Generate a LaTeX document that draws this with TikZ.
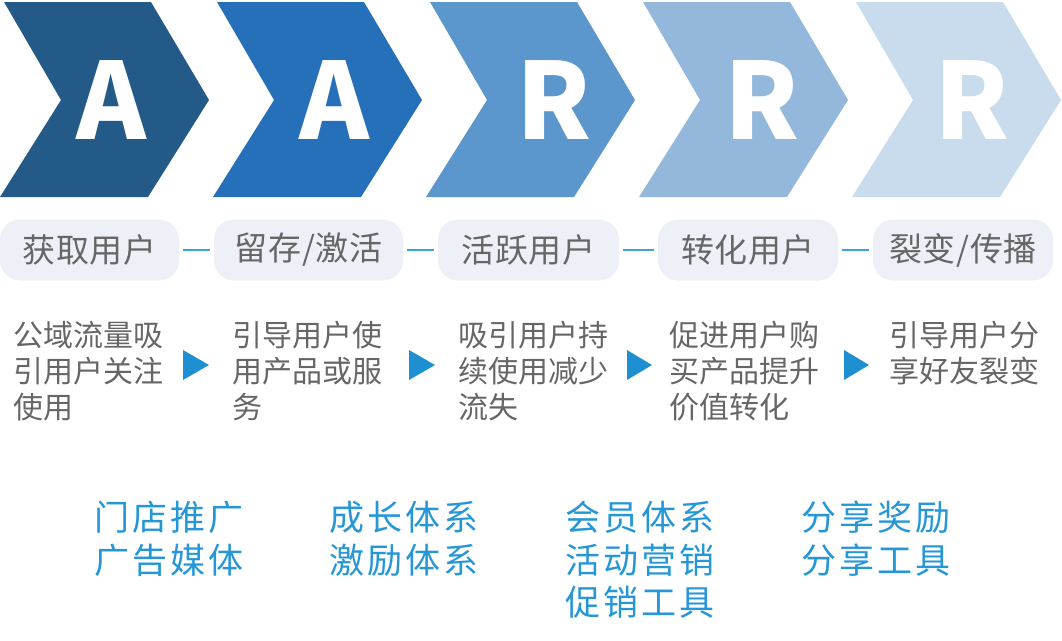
\documentclass[tikz,border=0pt]{standalone}
\usepackage{fontspec}
\newfontfamily\cjk{Noto Sans CJK SC}
\newfontfamily\cjkwide[LetterSpace=9]{Noto Sans CJK SC}
\newfontfamily\cjkpill[LetterSpace=2]{Noto Sans CJK SC}
\definecolor{c1}{HTML}{235A87}
\definecolor{c2}{HTML}{2670BA}
\definecolor{c3}{HTML}{5B96CD}
\definecolor{c4}{HTML}{93B8DC}
\definecolor{c5}{HTML}{C8DCED}
\definecolor{pillfill}{HTML}{EDF1F7}
\definecolor{graytext}{HTML}{666666}
\definecolor{bluetext}{HTML}{2596D6}
\definecolor{tricol}{HTML}{1E90D2}
\definecolor{dashcol}{HTML}{3BA3DE}
\begin{document}
\begin{tikzpicture}[x=1pt,y=-1pt,
  letter/.style={text=white, inner sep=0pt, font=\cjk\bfseries\fontsize{106}{106}\selectfont},
  pill/.style={fill=pillfill, rounded corners=20pt, minimum height=61pt, inner sep=0pt, text=graytext, font=\cjkpill\fontsize{33}{33}\selectfont},
  dashline/.style={draw=dashcol, line width=2pt, shorten <=4pt, shorten >=4pt},
  desc/.style={anchor=base west, inner sep=0pt, text=graytext, font=\cjk\fontsize{30}{36}\selectfont},
  tri/.style={fill=tricol},
  tool/.style={anchor=base west, inner sep=0pt, text=bluetext, font=\cjkwide\fontsize{35}{43}\selectfont}]
\useasboundingbox (0,0) rectangle (1062,640);
% chevrons
\foreach \o/\c in {0/c1,213/c2,426/c3,639/c4,852/c5}{
  \fill[\c] (\o+4,2) -- (\o+151,2) -- (\o+209,100) -- (\o+148,197) -- (\o,197) -- (\o+61,100) -- cycle;
}
\node[letter] (L1) at (111,100) {A};
\node[letter] (L2) at (334,100) {A};
\node[letter] (L3) at (554,100) {R};
\node[letter] (L4) at (762,100) {R};
\node[letter] (L5) at (972,100) {R};
% pills
\node[pill, minimum width=179pt] (p1) at (89.5,250) {获取用户};
\node[pill, minimum width=189pt] (p2) at (308.5,250) {留存/激活};
\node[pill, minimum width=181pt] (p3) at (528.5,250) {活跃用户};
\node[pill, minimum width=180pt] (p4) at (748,250) {转化用户};
\node[pill, minimum width=180pt] (p5) at (963,250) {裂变/传播};
\draw[dashline] (p1.east) -- (p2.west);
\draw[dashline] (p2.east) -- (p3.west);
\draw[dashline] (p3.east) -- (p4.west);
\draw[dashline] (p4.east) -- (p5.west);
% descriptions
\node[desc] (d1a) at (13,346) {公域流量吸};
\node[desc] (d1b) at (13,382) {引用户关注};
\node[desc] (d1c) at (13,418) {使用};
\node[desc] (d2a) at (232,346) {引导用户使};
\node[desc] (d2b) at (232,382) {用产品或服};
\node[desc] (d2c) at (232,418) {务};
\node[desc] (d3a) at (458,346) {吸引用户持};
\node[desc] (d3b) at (458,382) {续使用减少};
\node[desc] (d3c) at (458,418) {流失};
\node[desc] (d4a) at (669,346) {促进用户购};
\node[desc] (d4b) at (669,382) {买产品提升};
\node[desc] (d4c) at (669,418) {价值转化};
\node[desc] (d5a) at (889,346) {引导用户分};
\node[desc] (d5b) at (889,382) {享好友裂变};
% triangles
\foreach \a/\b in {183/209,409/435,627/652,844/869}{
  \fill[tri] (\a,350) -- (\b,365) -- (\a,380) -- cycle;
}
% tools
\node[tool] (t1a) at (94,530) {门店推广};
\node[tool] (t1b) at (94,573) {广告媒体};
\node[tool] (t2a) at (329,530) {成长体系};
\node[tool] (t2b) at (329,573) {激励体系};
\node[tool] (t3a) at (565,530) {会员体系};
\node[tool] (t3b) at (565,573) {活动营销};
\node[tool] (t3c) at (565,615) {促销工具};
\node[tool] (t4a) at (801,530) {分享奖励};
\node[tool] (t4b) at (801,573) {分享工具};
\end{tikzpicture}
\end{document}
